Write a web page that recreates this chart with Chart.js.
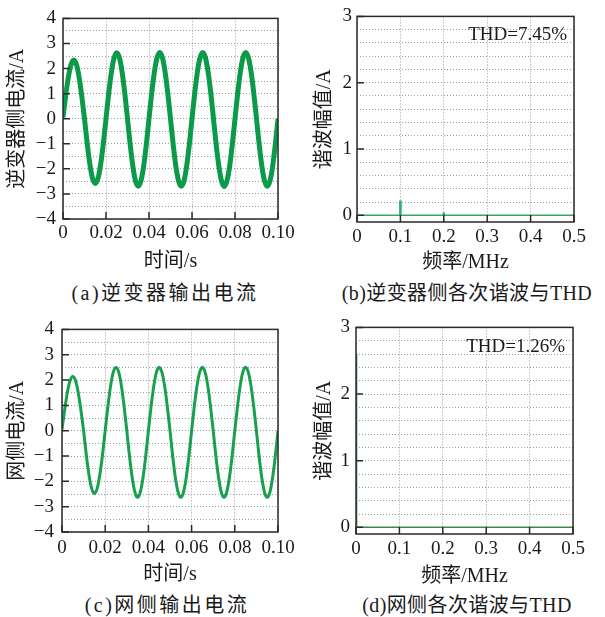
<!DOCTYPE html>
<html><head><meta charset="utf-8">
<script src="https://cdn.jsdelivr.net/npm/chart.js@4.4.1/dist/chart.umd.min.js"></script>
<style>
html,body{margin:0;padding:0;background:#fff;}
body{width:605px;height:617px;position:relative;overflow:hidden;}
canvas{position:absolute;}
.cap{position:absolute;font-size:20px;font-family:"Liberation Serif","Noto Sans CJK SC",serif;color:#1a1a1a;white-space:nowrap;transform:translate(-50%,-50%);line-height:24px;}
</style></head><body>
<canvas id="ca" width="300" height="280" style="left:0;top:0"></canvas>
<canvas id="cb" width="305" height="280" style="left:300px;top:0"></canvas>
<canvas id="cc" width="300" height="280" style="left:0;top:310px"></canvas>
<canvas id="cd" width="305" height="280" style="left:300px;top:310px"></canvas>
<div class="cap" style="left:165px;top:293px;letter-spacing:2.5px">(a)逆变器输出电流</div>
<div class="cap" style="left:467px;top:293px;letter-spacing:0.4px">(b)逆变器侧各次谐波与THD</div>
<div class="cap" style="left:167px;top:605px;letter-spacing:2.5px">(c)网侧输出电流</div>
<div class="cap" style="left:467px;top:605px;letter-spacing:0.4px">(d)网侧各次谐波与THD</div>
<script>
// ---------------- data ----------------
// time samples in milliseconds
const timeMs = [0,1.25,2.5,3.75,5,6.25,7.5,8.75,10,11.25,12.5,13.75,15,16.25,17.5,18.75,20,21.25,22.5,23.75,25,26.25,27.5,28.75,30,31.25,32.5,33.75,35,36.25,37.5,38.75,40,41.25,42.5,43.75,45,46.25,47.5,48.75,50,51.25,52.5,53.75,55,56.25,57.5,58.75,60,61.25,62.5,63.75,65,66.25,67.5,68.75,70,71.25,72.5,73.75,75,76.25,77.5,78.75,80,81.25,82.5,83.75,85,86.25,87.5,88.75,90,91.25,92.5,93.75,95,96.25,97.5,98.75,100];

// (a) inverter-side current, A
const inverterCurrent = [
  0.05,0.92,1.66,2.16,2.34,2.16,1.65,0.89,0.00,
  -0.98,-1.82,-2.38,-2.58,-2.39,-1.83,-1.00,0.00,
  1.00,1.85,2.42,2.63,2.43,1.86,1.01,0.00,
  -1.03,-1.90,-2.49,-2.69,-2.48,-1.90,-1.03,0.00,
  1.01,1.86,2.43,2.64,2.43,1.86,1.01,0.00,
  -1.03,-1.90,-2.48,-2.69,-2.49,-1.90,-1.03,0.00,
  1.01,1.86,2.43,2.64,2.43,1.86,1.01,0.00,
  -1.03,-1.90,-2.49,-2.70,-2.48,-1.90,-1.03,0.00,
  1.01,1.87,2.44,2.64,2.43,1.86,1.01,0.00,
  -1.03,-1.90,-2.48,-2.69,-2.49,-1.91,-1.03,0.00
];

// (c) grid-side current, A
const gridCurrent = [
  0.05,0.84,1.52,1.98,2.14,1.98,1.51,0.82,0.00,
  -0.95,-1.75,-2.29,-2.48,-2.29,-1.75,-0.95,0.00,
  0.96,1.77,2.31,2.50,2.31,1.77,0.96,0.00,
  -1.01,-1.86,-2.43,-2.63,-2.43,-1.86,-1.01,0.00,
  0.96,1.77,2.31,2.51,2.31,1.77,0.96,0.00,
  -1.01,-1.86,-2.43,-2.63,-2.43,-1.86,-1.01,0.00,
  0.96,1.77,2.31,2.51,2.31,1.77,0.96,0.00,
  -1.01,-1.86,-2.43,-2.63,-2.43,-1.86,-1.01,0.00,
  0.96,1.77,2.32,2.51,2.31,1.77,0.96,0.00,
  -1.01,-1.86,-2.43,-2.63,-2.43,-1.86,-1.01,0.00
];

// (b) inverter-side harmonic spectrum (MHz, A)
const harmFreqB = [0.1, 0.2];
const harmAmpB  = [0.22, 0.04];
const baseFreqB = [0, 0.5];
const baseAmpB  = [0, 0];
const thdB = 'THD=7.45%';

// (d) grid-side harmonic spectrum (MHz, A)
const harmFreqD = [0.00005];
const harmAmpD  = [2.6];
const baseFreqD = [0, 0.5];
const baseAmpD  = [0, 0];
const thdD = 'THD=1.26%';

// ticks
const xMajorT  = [0,20,40,60,80,100];
const xLabelsT = ['0','0.02','0.04','0.06','0.08','0.10'];
const yGridI   = [-4,-3.5,-3,-2.5,-2,-1.5,-1,-0.5,0,0.5,1,1.5,2,2.5,3,3.5,4];
const yMajorI  = [-4,-3,-2,-1,0,1,2,3,4];
const yLabelsI = ['−4','−3','−2','−1','0','1','2','3','4'];
const xMajorF  = [0,0.1,0.2,0.3,0.4,0.5];
const xLabelsF = ['0','0.1','0.2','0.3','0.4','0.5'];
const yGridH   = [0,0.2,0.4,0.6,0.8,1,1.2,1.4,1.6,1.8,2,2.2,2.4,2.6,2.8,3];
const yMajorH  = [0,1,2,3];
const yLabelsH = ['0','1','2','3'];

// ---------------- chart helpers ----------------
const FAM = '"Liberation Serif","Noto Sans CJK SC",serif';
const INK = '#1a1a1a';
const GRIDC = '#9c9c9c';
Chart.defaults.animation = false;
Chart.defaults.devicePixelRatio = 1;

function lab(v, vals, labels){ const i = vals.indexOf(v); return i >= 0 ? labels[i] : ''; }
function pts(xs, ys){ return xs.map((x,i)=>({x:x, y:ys[i]})); }

const framePlugin = {
  id: 'frame',
  afterDatasetsDraw(chart, args, o){
    const {ctx, chartArea:a} = chart;
    const x = chart.scales.x, y = chart.scales.y;
    ctx.save();
    ctx.strokeStyle = '#2a2a2a';
    ctx.lineWidth = 1.5;
    ctx.beginPath();
    o.xMajor.forEach(v=>{ const p = x.getPixelForValue(v); ctx.moveTo(p, a.bottom); ctx.lineTo(p, a.bottom - o.tickLen); });
    o.yMajor.forEach(v=>{ const p = y.getPixelForValue(v); ctx.moveTo(a.left, p); ctx.lineTo(a.left + o.tickLen, p); });
    ctx.stroke();
    ctx.strokeRect(a.left, a.top, a.right - a.left, a.bottom - a.top);
    if (o.text){
      ctx.font = '19px ' + FAM;
      ctx.fillStyle = INK;
      ctx.textAlign = 'right';
      ctx.textBaseline = 'middle';
      ctx.fillText(o.text, a.right - o.textDx, a.top + o.textDy);
    }
    ctx.restore();
  }
};

function axisX(s){
  return {
    type:'linear', min:s.min, max:s.max, offset:false,
    afterBuildTicks: sc => { sc.ticks = s.major.map(v=>({value:v})); },
    afterFit: sc => { sc.height = s.height; },
    ticks:{ callback:(v)=>lab(v, s.major, s.labels), font:{family:FAM, size:19, lineHeight:1.2}, color:INK, padding:s.tickPad, maxRotation:0, autoSkip:false },
    grid:{ color:GRIDC, lineWidth:1, drawTicks:false, offset:false },
    border:{ display:false, dash:[1,2] },
    title:{ display:true, text:s.title, font:{family:FAM, size:20, lineHeight:1.2}, color:INK, padding:{top:0, bottom:s.titlePad} }
  };
}
function axisY(s){
  return {
    type:'linear', min:s.min, max:s.max,
    afterBuildTicks: sc => { sc.ticks = s.grid.map(v=>({value:v})); },
    afterFit: sc => { sc.width = s.width; },
    ticks:{ callback:(v)=>lab(v, s.major, s.labels), font:{family:FAM, size:19, lineHeight:1.2}, color:INK, padding:s.tickPad, autoSkip:false },
    grid:{ color:GRIDC, lineWidth:1, drawTicks:false },
    border:{ display:false, dash:[1,2] },
    title:{ display:true, text:s.title, font:{family:FAM, size:20, lineHeight:1.2}, color:INK, padding:{top:s.titlePad, bottom:0} }
  };
}
function baseOpts(pad, xs, ys, frame){
  return {
    responsive:false, maintainAspectRatio:false, animation:false,
    layout:{ padding:pad },
    scales:{ x:axisX(xs), y:axisY(ys) },
    plugins:{ legend:{display:false}, tooltip:{enabled:false}, frame:frame }
  };
}

// (a)
new Chart(document.getElementById('ca'), {
  type:'line',
  data:{ datasets:[{ data:pts(timeMs, inverterCurrent), borderColor:'#0b9a48', borderWidth:5, pointRadius:0, cubicInterpolationMode:'monotone', fill:false }] },
  options: baseOpts({left:0, top:16, right:22, bottom:0},
    {min:0, max:100, major:xMajorT, labels:xLabelsT, height:61, tickPad:2.6, title:'时间/s', titlePad:6},
    {min:-4, max:4, grid:yGridI, major:yMajorI, labels:yLabelsI, width:63, tickPad:7, title:'逆变器侧电流/A', titlePad:6},
    {xMajor:xMajorT, yMajor:yMajorI, tickLen:7}),
  plugins:[framePlugin]
});

// (b)
new Chart(document.getElementById('cb'), {
  type:'bar',
  data:{ datasets:[
    { type:'line', data:pts(baseFreqB, baseAmpB), borderColor:'#3aa56a', borderWidth:1.5, pointRadius:0 },
    { type:'bar', data:pts(harmFreqB, harmAmpB), backgroundColor:'#2cb36a', barThickness:2, grouped:false }
  ] },
  options: baseOpts({left:0, top:16, right:31, bottom:0},
    {min:0, max:0.5, major:xMajorF, labels:xLabelsF, height:58, tickPad:3.6, title:'频率/MHz', titlePad:5},
    {min:-0.1, max:3, grid:yGridH, major:yMajorH, labels:yLabelsH, width:57, tickPad:5, title:'谐波幅值/A', titlePad:13},
    {xMajor:xMajorF, yMajor:yMajorH, tickLen:7, text:thdB, textDx:7, textDy:19}),
  plugins:[framePlugin]
});

// (c)
new Chart(document.getElementById('cc'), {
  type:'line',
  data:{ datasets:[{ data:pts(timeMs, gridCurrent), borderColor:'#18a04e', borderWidth:3, pointRadius:0, cubicInterpolationMode:'monotone', fill:false }] },
  options: baseOpts({left:0, top:16, right:22, bottom:0},
    {min:0, max:100, major:xMajorT, labels:xLabelsT, height:58, tickPad:4.6, title:'时间/s', titlePad:3},
    {min:-4, max:4, grid:yGridI, major:yMajorI, labels:yLabelsI, width:62, tickPad:8, title:'网侧电流/A', titlePad:6},
    {xMajor:xMajorT, yMajor:yMajorI, tickLen:7}),
  plugins:[framePlugin]
});

// (d)
new Chart(document.getElementById('cd'), {
  type:'bar',
  data:{ datasets:[
    { type:'line', data:pts(baseFreqD, baseAmpD), borderColor:'#3f8a4a', borderWidth:1.5, pointRadius:0 },
    { type:'bar', data:pts(harmFreqD, harmAmpD), backgroundColor:'#4d8a55', barThickness:2, grouped:false }
  ] },
  options: baseOpts({left:0, top:16, right:32, bottom:0},
    {min:0, max:0.5, major:xMajorF, labels:xLabelsF, height:56, tickPad:3.6, title:'频率/MHz', titlePad:1},
    {min:-0.1, max:3, grid:yGridH, major:yMajorH, labels:yLabelsH, width:56, tickPad:6, title:'谐波幅值/A', titlePad:13},
    {xMajor:xMajorF, yMajor:yMajorH, tickLen:7, text:thdD, textDx:8, textDy:20}),
  plugins:[framePlugin]
});
</script>
</body></html>
